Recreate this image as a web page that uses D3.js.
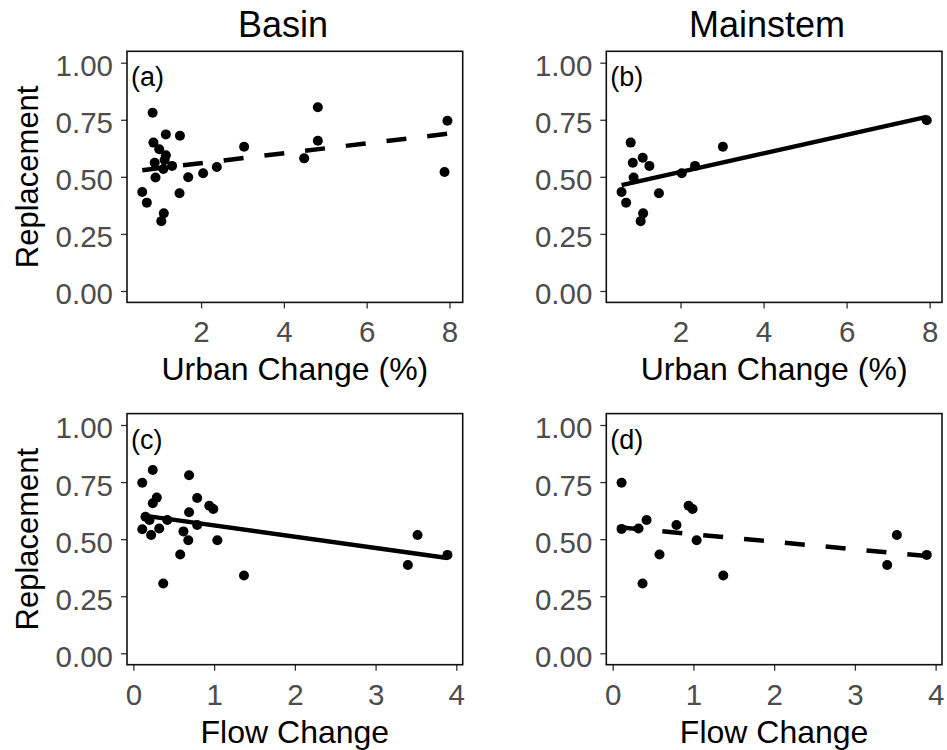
<!DOCTYPE html>
<html>
<head>
<meta charset="utf-8">
<script src="https://cdn.jsdelivr.net/npm/d3@7"></script>
<style>
  body { margin: 0; background: #fff; }
  svg { display: block; }
  text { font-family: "Liberation Sans", Arial, sans-serif; }
</style>
</head>
<body>
<svg id="chart" width="947" height="750"></svg>
<script>
// (a) Basin: urban change (%) vs replacement
const basinUrbanX = [0.83, 1.15, 1.49, 0.85, 0.99, 1.15, 0.88, 1.12, 1.30, 1.09, 0.90, 1.69, 2.05,
                     2.38, 3.04, 0.58, 0.69, 1.48, 1.10, 1.04, 4.82, 4.82, 4.49, 7.95, 7.88];
const basinUrbanY = [0.781, 0.686, 0.680, 0.650, 0.621, 0.595, 0.562, 0.574, 0.548, 0.534, 0.497, 0.498, 0.516,
                     0.543, 0.632, 0.434, 0.387, 0.428, 0.340, 0.306, 0.805, 0.658, 0.581, 0.746, 0.521];

// (b) Mainstem: urban change (%) vs replacement
const mainUrbanX = [0.80, 0.85, 1.09, 1.25, 0.87, 2.03, 2.35, 3.02, 0.58, 0.69, 1.48, 1.10, 1.04, 7.93];
const mainUrbanY = [0.650, 0.562, 0.584, 0.548, 0.497, 0.516, 0.548, 0.632, 0.434, 0.387, 0.428, 0.340, 0.306, 0.748];

// (c) Basin: flow change vs replacement
const basinFlowX = [0.11, 0.24, 0.69, 0.29, 0.24, 0.79, 0.94, 0.99, 0.69, 0.15, 0.20, 0.42, 0.79,
                    0.11, 0.32, 0.62, 0.22, 0.68, 1.04, 0.58, 1.37, 0.37, 3.40, 3.52, 3.89];
const basinFlowY = [0.747, 0.803, 0.780, 0.682, 0.657, 0.680, 0.646, 0.632, 0.618, 0.598, 0.584, 0.584, 0.562,
                    0.543, 0.547, 0.534, 0.518, 0.495, 0.495, 0.433, 0.341, 0.306, 0.387, 0.518, 0.431];

// (d) Mainstem: flow change vs replacement
const mainFlowX = [0.11, 0.11, 0.32, 0.42, 0.79, 0.94, 0.99, 1.04, 0.58, 1.37, 0.37, 3.40, 3.52, 3.89];
const mainFlowY = [0.747, 0.545, 0.547, 0.584, 0.562, 0.646, 0.632, 0.495, 0.433, 0.341, 0.306, 0.387, 0.518, 0.431];

const replacementTicks = [0, 0.25, 0.5, 0.75, 1];
const urbanTicks = [2, 4, 6, 8];
const flowTicks = [0, 1, 2, 3, 4];
const columnTitles = ["Basin", "Mainstem"];
const rowTitles = ["Urban Change (%)", "Flow Change"];
const yTitle = "Replacement";

// layout
const svg = d3.select("#chart");
const PW = 335.7, PH = 251.1;
const colLeft = [127, 606.3];
const rowTop = [51.3, 413.6];

const panels = [
  { tag: "(a)", col: 0, row: 0, xs: basinUrbanX, ys: basinUrbanY, ticks: urbanTicks, dashed: true },
  { tag: "(b)", col: 1, row: 0, xs: mainUrbanX,  ys: mainUrbanY,  ticks: urbanTicks, dashed: false },
  { tag: "(c)", col: 0, row: 1, xs: basinFlowX,  ys: basinFlowY,  ticks: flowTicks,  dashed: false },
  { tag: "(d)", col: 1, row: 1, xs: mainFlowX,   ys: mainFlowY,   ticks: flowTicks,  dashed: true }
];

// least-squares line
function ols(xs, ys) {
  const mx = d3.mean(xs), my = d3.mean(ys);
  let sxy = 0, sxx = 0;
  xs.forEach((x, i) => { sxy += (x - mx) * (ys[i] - my); sxx += (x - mx) * (x - mx); });
  const b = sxy / sxx;
  return { a: my - b * mx, b };
}
function expand(ext) {
  const r = ext[1] - ext[0];
  return [ext[0] - 0.05 * r, ext[1] + 0.05 * r];
}

panels.forEach(p => {
  const g = svg.append("g").attr("transform", `translate(${colLeft[p.col]},${rowTop[p.row]})`);
  const x = d3.scaleLinear().domain(expand(d3.extent(p.xs))).range([0, PW]);
  const y = d3.scaleLinear().domain([-0.05, 1.05]).range([PH, 0]);

  // axes
  const ya = g.append("g").call(d3.axisLeft(y).tickValues(replacementTicks)
      .tickFormat(d3.format(".2f")).tickSize(6).tickPadding(8));
  const xa = g.append("g").attr("transform", `translate(0,${PH})`)
      .call(d3.axisBottom(x).tickValues(p.ticks).tickFormat(d3.format("d")).tickSize(6).tickPadding(13));
  [ya, xa].forEach(a => {
    a.select(".domain").remove();
    a.selectAll(".tick line").attr("stroke", "#333").attr("stroke-width", 1.3);
    a.selectAll(".tick text").attr("fill", "#4D4D4D").attr("font-size", 29.5)
      .attr("font-family", "'Liberation Sans', Arial, sans-serif");
  });
  ya.selectAll(".tick text").attr("dy", "0.44em");

  // points
  g.append("g").selectAll("circle").data(p.xs).join("circle")
    .attr("cx", d => x(d)).attr("cy", (d, i) => y(p.ys[i])).attr("r", 5).attr("fill", "#000");

  // linear fit across the observed range
  const f = ols(p.xs, p.ys);
  const [x0, x1] = d3.extent(p.xs);
  g.append("line")
    .attr("x1", x(x0)).attr("y1", y(f.a + f.b * x0))
    .attr("x2", x(x1)).attr("y2", y(f.a + f.b * x1))
    .attr("stroke", "#000").attr("stroke-width", 4.5)
    .attr("stroke-dasharray", p.dashed ? "20,21" : null);

  // panel border
  g.append("rect").attr("width", PW).attr("height", PH)
    .attr("fill", "none").attr("stroke", "#111").attr("stroke-width", 1.6);

  // panel tag
  g.append("text").attr("x", 4).attr("y", 35).attr("font-size", 27).attr("fill", "#000").text(p.tag);

  // x-axis title
  g.append("text").attr("x", PW / 2).attr("y", PH + 78).attr("text-anchor", "middle")
    .attr("font-size", 32).attr("fill", "#000").text(rowTitles[p.row]);

  // y-axis title (left column only)
  if (p.col === 0) {
    g.append("text").attr("transform", `translate(${38 - colLeft[0]},${PH / 2}) rotate(-90)`)
      .attr("text-anchor", "middle").attr("font-size", 31).attr("fill", "#000").text(yTitle);
  }
});

// column titles
svg.append("text").attr("x", 283).attr("y", 37).attr("text-anchor", "middle")
  .attr("font-size", 36).attr("fill", "#000").text(columnTitles[0]);
svg.append("text").attr("x", 767).attr("y", 37).attr("text-anchor", "middle")
  .attr("font-size", 36).attr("fill", "#000").text(columnTitles[1]);
</script>
</body>
</html>
